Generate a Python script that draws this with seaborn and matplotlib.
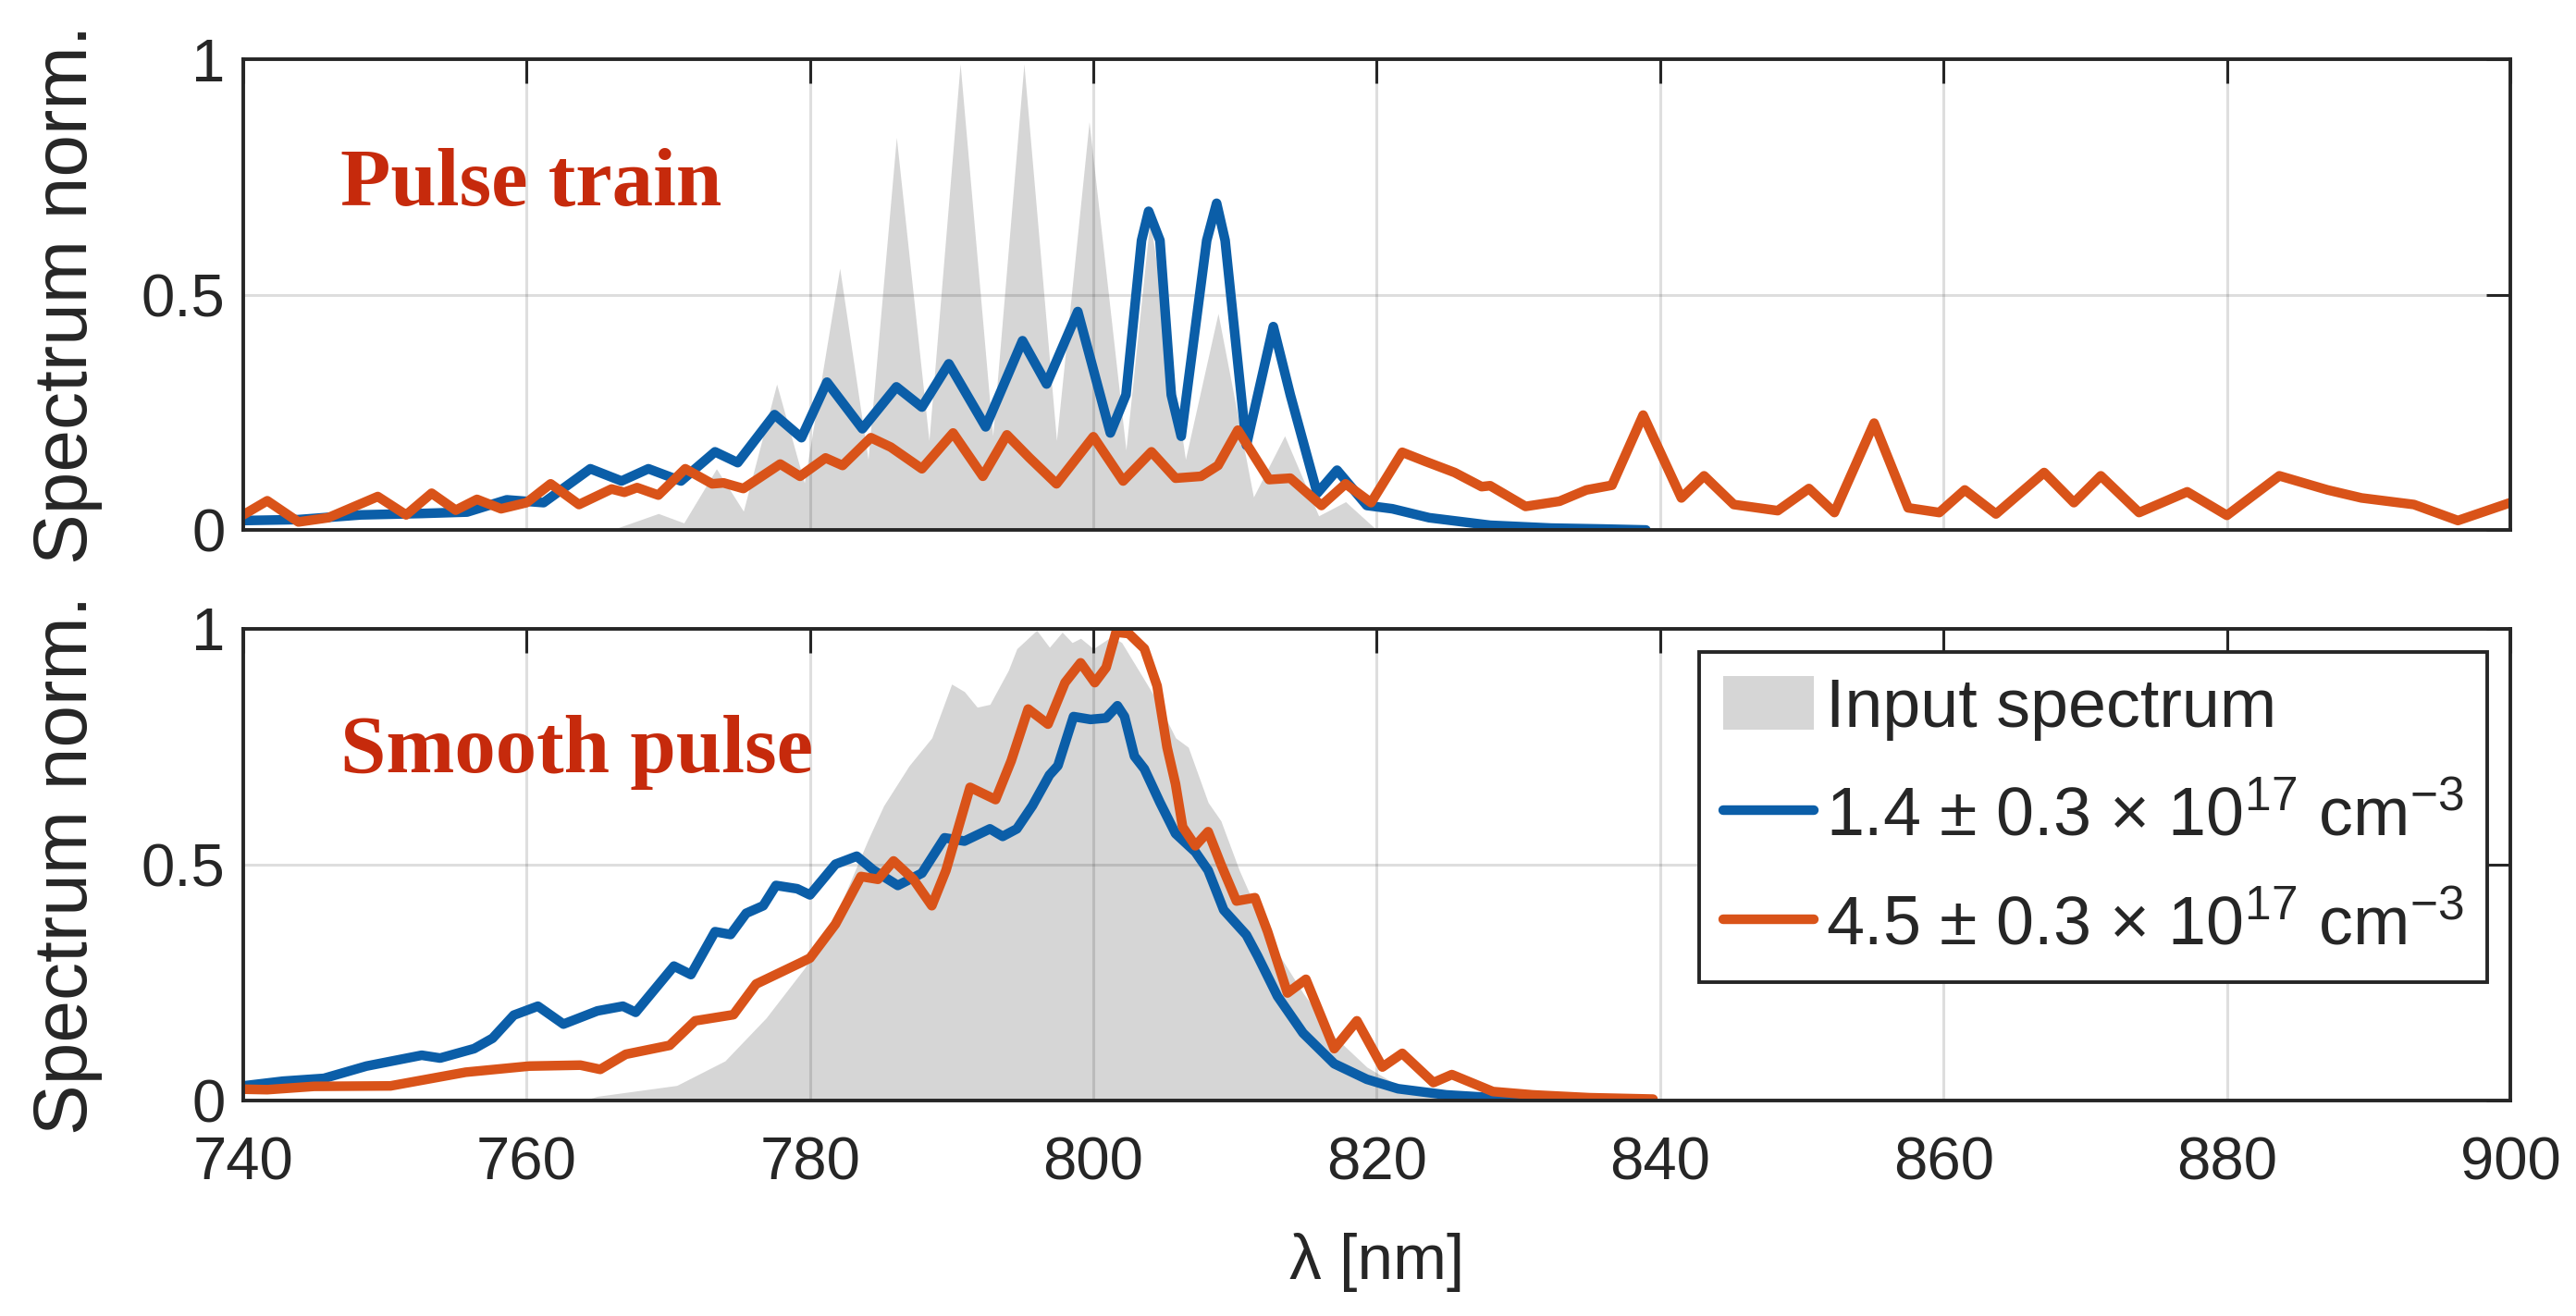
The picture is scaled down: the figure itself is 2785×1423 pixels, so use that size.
import matplotlib
matplotlib.use("Agg")
import matplotlib.pyplot as plt
from matplotlib.patches import Patch
from matplotlib.lines import Line2D
import seaborn as sns

# ---------------- data ----------------
# Top panel: pulse train
top_input_wl = [766.0, 769.3, 771.1, 773.4, 775.3, 777.65, 779.6, 782.1, 784.1, 786.1, 788.4,
                790.6, 792.9, 795.1, 797.4, 799.7, 802.3, 804.0, 806.5, 808.8, 811.3, 813.5,
                815.9, 817.8, 820.0]
top_input_val = [0.0, 0.035, 0.015, 0.13, 0.04, 0.31, 0.10, 0.556, 0.15, 0.834, 0.19,
                 0.99, 0.20, 0.99, 0.19, 0.867, 0.17, 0.66, 0.15, 0.46, 0.07, 0.20,
                 0.03, 0.06, 0.0]

top_low_wl = [740.0, 743.9, 748.3, 752.6, 755.8, 758.6, 761.2, 764.5, 766.7, 768.6, 770.9,
              773.3, 774.9, 777.5, 779.4, 781.2, 783.7, 786.1, 787.9, 789.8, 792.4, 795.0,
              796.7, 798.9, 801.2, 802.3, 803.4, 803.9, 804.7, 805.5, 806.2, 808.0, 808.7,
              809.3, 810.8, 812.7, 813.9, 815.8, 817.2, 819.3, 821.1, 823.7, 828.0, 832.3,
              836.0, 839.0]
top_low_val = [0.02, 0.022, 0.032, 0.035, 0.038, 0.064, 0.058, 0.13, 0.104, 0.13, 0.104,
               0.166, 0.143, 0.245, 0.196, 0.314, 0.215, 0.304, 0.261, 0.353, 0.219, 0.402,
               0.31, 0.464, 0.206, 0.287, 0.615, 0.677, 0.615, 0.287, 0.199, 0.615, 0.694,
               0.615, 0.18, 0.432, 0.287, 0.078, 0.127, 0.052, 0.045, 0.026, 0.01, 0.004,
               0.002, 0.0]

top_high_wl = [740.0, 741.7, 743.9, 746.0, 749.5, 751.5, 753.3, 755.0, 756.5, 758.2, 760.0,
               761.7, 763.7, 766.0, 766.9, 767.8, 769.3, 771.2, 773.1, 773.9, 775.3, 777.9,
               779.3, 781.1, 782.3, 784.3, 785.7, 787.9, 790.1, 792.2, 793.9, 795.5, 797.4,
               800.0, 802.1, 804.1, 805.8, 807.6, 808.8, 810.2, 812.4, 813.9, 816.1, 817.8,
               819.6, 821.8, 823.4, 825.5, 827.4, 828.0, 830.5, 832.9, 834.8, 836.6, 838.8,
               841.5, 843.1, 845.2, 848.3, 850.5, 852.3, 855.1, 857.5, 859.7, 861.5, 863.7,
               867.1, 869.2, 871.1, 873.8, 877.2, 880.0, 883.7, 887.1, 889.5, 893.2, 896.3,
               900.0]
top_high_val = [0.032, 0.062, 0.017, 0.026, 0.071, 0.032, 0.078, 0.042, 0.065, 0.045, 0.058,
                0.098, 0.054, 0.087, 0.08, 0.09, 0.074, 0.13, 0.098, 0.10, 0.088, 0.14,
                0.114, 0.153, 0.137, 0.196, 0.176, 0.13, 0.206, 0.114, 0.202, 0.153, 0.098,
                0.198, 0.104, 0.166, 0.11, 0.114, 0.137, 0.212, 0.107, 0.11, 0.052, 0.098,
                0.058, 0.165, 0.146, 0.122, 0.092, 0.094, 0.05, 0.061, 0.085, 0.095, 0.244,
                0.068, 0.115, 0.054, 0.041, 0.088, 0.037, 0.227, 0.047, 0.037, 0.085, 0.034,
                0.122, 0.058, 0.115, 0.037, 0.081, 0.031, 0.115, 0.085, 0.068, 0.054, 0.02,
                0.058]

# Bottom panel: smooth pulse
bot_input_wl = [764.0, 765.0, 770.6, 774.0, 776.9, 779.6, 781.8, 784.1, 785.2, 787.0, 788.6,
                790.0, 790.9, 791.8, 792.7, 794.0, 794.6, 796.0, 796.9, 797.8, 798.5, 799.1,
                800.0, 801.3, 802.0, 803.6, 804.5, 805.8, 806.7, 808.1, 809.0, 810.3, 812.5,
                814.8, 817.0, 819.3, 821.5, 823.7, 826.0, 828.0]
bot_input_val = [0.0, 0.009, 0.032, 0.084, 0.175, 0.28, 0.39, 0.553, 0.625, 0.71, 0.769,
                 0.883, 0.867, 0.834, 0.84, 0.912, 0.958, 0.997, 0.961, 0.993, 0.971, 0.98,
                 0.958, 0.984, 0.971, 0.892, 0.847, 0.769, 0.749, 0.632, 0.593, 0.488, 0.338,
                 0.228, 0.136, 0.071, 0.032, 0.012, 0.003, 0.0]

bot_low_wl = [740.0, 742.8, 745.7, 748.7, 752.6, 753.9, 756.3, 757.6, 759.1, 760.8, 762.6,
              765.0, 766.8, 767.7, 770.4, 771.6, 773.3, 774.4, 775.5, 776.7, 777.6, 779.1,
              780.0, 781.8, 783.3, 784.5, 786.2, 787.9, 789.5, 790.9, 792.7, 793.6, 794.6,
              795.7, 796.9, 797.5, 798.6, 799.8, 800.9, 801.7, 802.2, 802.9, 803.6, 804.7,
              805.8, 807.2, 808.1, 809.2, 810.8, 811.6, 813.0, 814.8, 817.0, 819.3, 821.5,
              824.9, 828.2, 831.0]
bot_low_val = [0.031, 0.041, 0.047, 0.073, 0.096, 0.09, 0.11, 0.132, 0.181, 0.2, 0.162,
               0.19, 0.2, 0.187, 0.285, 0.267, 0.358, 0.352, 0.397, 0.413, 0.456, 0.449,
               0.436, 0.501, 0.518, 0.488, 0.456, 0.482, 0.557, 0.55, 0.576, 0.56, 0.576,
               0.625, 0.69, 0.71, 0.814, 0.808, 0.811, 0.837, 0.814, 0.73, 0.703, 0.632,
               0.566, 0.527, 0.488, 0.404, 0.351, 0.306, 0.221, 0.143, 0.078, 0.045, 0.025,
               0.012, 0.006, 0.002]

bot_high_wl = [740.0, 741.7, 745.0, 750.4, 755.7, 760.2, 763.8, 765.2, 767.0, 770.1, 771.9,
               774.6, 776.2, 779.4, 780.0, 781.8, 783.6, 784.8, 785.9, 787.3, 788.6, 789.6,
               791.3, 793.1, 794.2, 795.4, 796.8, 798.0, 799.1, 800.1, 800.9, 801.6, 802.5,
               803.6, 804.5, 805.2, 805.8, 806.3, 807.2, 808.1, 809.0, 810.1, 811.4, 812.3,
               813.7, 815.0, 817.0, 818.6, 820.4, 821.8, 824.0, 825.3, 828.2, 831.0, 835.0,
               839.5]
bot_high_val = [0.024, 0.023, 0.03, 0.031, 0.06, 0.073, 0.075, 0.066, 0.098, 0.117, 0.169,
                0.182, 0.247, 0.293, 0.302, 0.374, 0.475, 0.469, 0.508, 0.469, 0.413, 0.488,
                0.664, 0.638, 0.72, 0.83, 0.798, 0.886, 0.928, 0.886, 0.918, 0.993, 0.99,
                0.958, 0.879, 0.749, 0.671, 0.58, 0.54, 0.57, 0.501, 0.423, 0.43, 0.358,
                0.228, 0.257, 0.11, 0.169, 0.071, 0.1, 0.038, 0.055, 0.019, 0.012, 0.006,
                0.003]

x_ticks = [740, 760, 780, 800, 820, 840, 860, 880, 900]
y_ticks = [0, 0.5, 1]
y_tick_labels = ["0", "0.5", "1"]
legend_labels = ["Input spectrum",
                 "1.4 \u00b1 0.3 \u00d7 10$^{17}$ cm$^{-3}$",
                 "4.5 \u00b1 0.3 \u00d7 10$^{17}$ cm$^{-3}$"]
panel_titles = ["Pulse train", "Smooth pulse"]

# ---------------- style ----------------
sns.set_theme(style="white")
plt.rcParams["font.family"] = ["Liberation Sans", "DejaVu Sans"]
plt.rcParams["mathtext.fontset"] = "custom"
plt.rcParams["mathtext.rm"] = "Liberation Sans"
plt.rcParams["mathtext.default"] = "regular"

BLUE = "#0B5EA8"
ORANGE = "#D95319"
GRAY = "#D6D6D6"
DARK = "#262626"
TITLE_RED = "#C62A0C"
LW = 7.5

fig = plt.figure(figsize=(27.85, 14.23), dpi=100)
ax1 = fig.add_axes([0.0944, 0.5973, 0.8801, 0.3577])
ax2 = fig.add_axes([0.0944, 0.16374, 0.8801, 0.3584])

panels = [
    (ax1, top_input_wl, top_input_val, top_low_wl, top_low_val, top_high_wl, top_high_val),
    (ax2, bot_input_wl, bot_input_val, bot_low_wl, bot_low_val, bot_high_wl, bot_high_val),
]

for ax, iw, iv, lw_, lv, hw, hv in panels:
    ax.fill_between(iw, 0, iv, color=GRAY, linewidth=0, zorder=1)
    sns.lineplot(x=lw_, y=lv, ax=ax, color=BLUE, linewidth=LW, sort=False,
                 estimator=None, zorder=3)
    sns.lineplot(x=hw, y=hv, ax=ax, color=ORANGE, linewidth=LW, sort=False,
                 estimator=None, zorder=4)
    ax.set_xlim(740, 900)
    ax.set_ylim(0, 1)
    ax.set_xticks(x_ticks)
    ax.set_yticks(y_ticks)
    ax.set_yticklabels(y_tick_labels)
    ax.set_axisbelow(False)
    ax.grid(True, color=DARK, alpha=0.15, linewidth=2.2)
    for sp in ax.spines.values():
        sp.set_visible(True)
        sp.set_color(DARK)
        sp.set_linewidth(2.8)
        sp.set_zorder(6)
    ax.tick_params(axis="both", direction="in", length=19, width=2.2, color=DARK,
                   top=True, right=True, labelsize=47, labelcolor=DARK)
    ax.tick_params(axis="y", pad=14)
    ax.tick_params(axis="x", pad=28)
    ax.set_ylabel("Spectrum norm.", fontsize=59, color=DARK)
    ax.yaxis.set_label_coords(-0.062, 0.5)

ax1.tick_params(axis="x", labelbottom=False)
ax1.set_xlabel("")
ax2.set_xlabel("\u03bb [nm]", fontsize=50, color=DARK, labelpad=32)

ax1.text(0.0428, 0.69, panel_titles[0], transform=ax1.transAxes, fontsize=64,
         family="Liberation Serif", fontweight="bold", color=TITLE_RED,
         va="baseline", ha="left", zorder=7)
ax2.text(0.0428, 0.696, panel_titles[1], transform=ax2.transAxes, fontsize=64,
         family="Liberation Serif", fontweight="bold", color=TITLE_RED,
         va="baseline", ha="left", zorder=7)

handles = [Patch(facecolor=GRAY, edgecolor="none"),
           Line2D([], [], color=BLUE, linewidth=LW),
           Line2D([], [], color=ORANGE, linewidth=LW)]
leg = ax2.legend(handles, legend_labels, loc="upper right", bbox_to_anchor=(0.99, 0.951),
                 borderaxespad=0, fontsize=53, frameon=True, fancybox=False,
                 framealpha=1, edgecolor=DARK, handlelength=1.33, handleheight=0.85,
                 handletextpad=0.18, labelspacing=0.65, borderpad=0.35)
leg.get_frame().set_linewidth(2.8)
leg.set_zorder(8)

fig.savefig("out.png", dpi=100)
